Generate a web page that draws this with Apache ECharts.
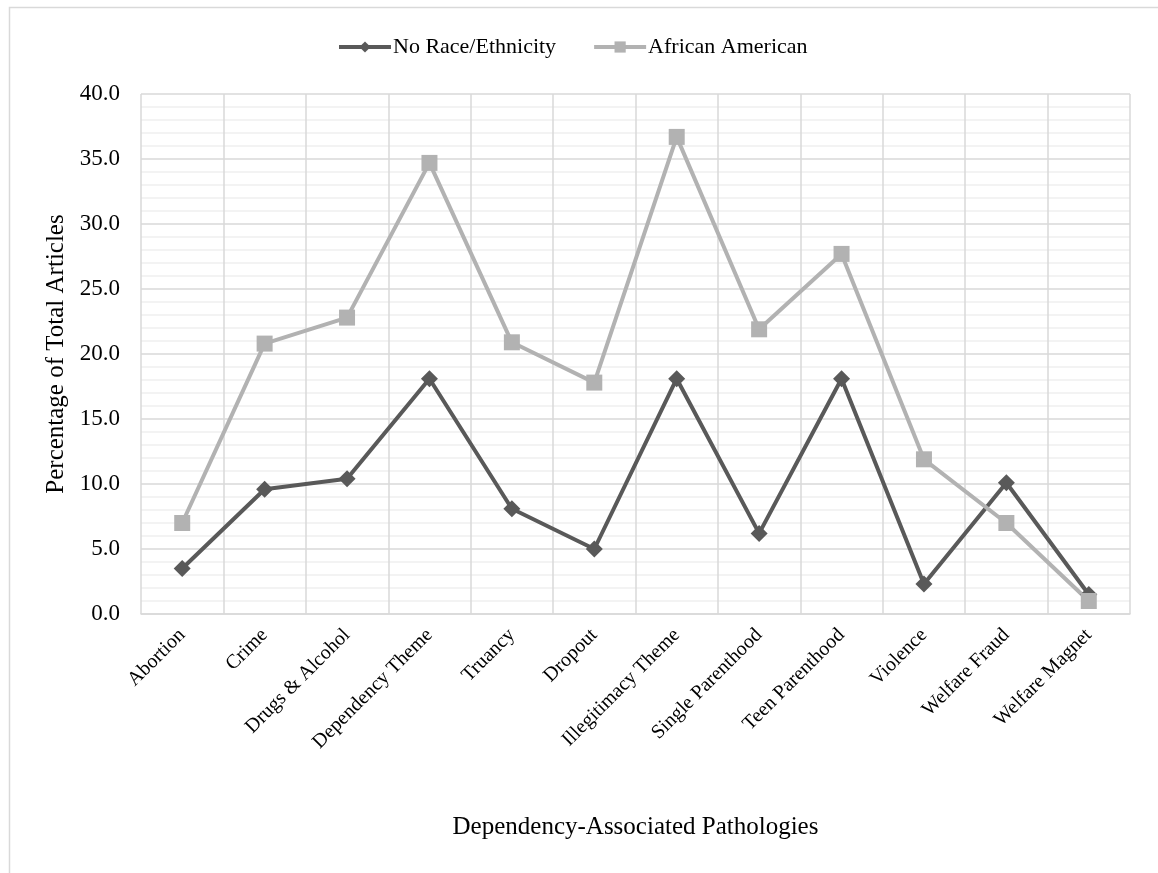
<!DOCTYPE html>
<html>
<head>
<meta charset="utf-8">
<script src="https://cdn.jsdelivr.net/npm/echarts@6/dist/echarts.min.js"></script>
<style>html,body{margin:0;padding:0;background:#fff;}#c{width:1158px;height:873px;}</style>
</head>
<body>
<div id="c"></div>
<script>
var categories = ["Abortion","Crime","Drugs & Alcohol","Dependency Theme","Truancy","Dropout","Illegitimacy Theme","Single Parenthood","Teen Parenthood","Violence","Welfare Fraud","Welfare Magnet"];
var noRace = [3.5, 9.6, 10.4, 18.1, 8.1, 5.0, 18.1, 6.2, 18.1, 2.3, 10.1, 1.5];
var africanAmerican = [7.0, 20.8, 22.8, 34.7, 20.9, 17.8, 36.7, 21.9, 27.7, 11.9, 7.0, 1.0];
var seriesNames = ["No Race/Ethnicity", "African American"];

var font = "'Liberation Serif', 'Times New Roman', serif";
var chart = echarts.init(document.getElementById('c'));
chart.setOption({
  backgroundColor: '#ffffff',
  animation: false,
  graphic: [{
    type: 'rect', left: 7, top: 5, silent: true,
    shape: {width: 1300, height: 1000},
    style: {fill: 'none', stroke: '#d9d9d9', lineWidth: 1.5}
  }],
  legend: {
    top: 31, left: 332, itemGap: 36, itemWidth: 52, itemHeight: 14,
    lineStyle: {width: 4},
    textStyle: {fontFamily: font, fontSize: 22, color: '#000', padding: [0, 0, 0, -3]},
    data: seriesNames
  },
  grid: {left: 141, right: 28, top: 94, bottom: 259},
  xAxis: {
    type: 'category', data: categories, boundaryGap: true,
    axisLine: {lineStyle: {color: '#d9d9d9', width: 1.5}},
    axisTick: {show: false},
    splitLine: {show: true, interval: 0, lineStyle: {color: '#d9d9d9', width: 1.5}},
    axisLabel: {interval: 0, rotate: 45, margin: 18, fontFamily: font, fontSize: 20, color: '#000'},
    name: 'Dependency-Associated Pathologies', nameLocation: 'middle', nameGap: 201,
    nameTextStyle: {fontFamily: font, fontSize: 25, color: '#000'}
  },
  yAxis: {
    type: 'value', min: 0, max: 40, interval: 5,
    axisLine: {show: false}, axisTick: {show: false},
    axisLabel: {fontFamily: font, fontSize: 23, color: '#000', margin: 21, formatter: function(v){return v.toFixed(1);}},
    splitLine: {show: true, lineStyle: {color: '#d9d9d9', width: 1.5}},
    minorTick: {show: false, splitNumber: 5},
    minorSplitLine: {show: true, lineStyle: {color: '#f0f0f0', width: 1.5}},
    name: 'Percentage of Total Articles', nameLocation: 'middle', nameGap: 69,
    nameTextStyle: {fontFamily: font, fontSize: 25, color: '#000'}
  },
  series: [{
    name: seriesNames[0], type: 'line', data: noRace,
    symbol: 'diamond', symbolSize: 17,
    lineStyle: {color: '#595959', width: 4},
    itemStyle: {color: '#595959'}
  }, {
    name: seriesNames[1], type: 'line', data: africanAmerican,
    symbol: 'rect', symbolSize: 16,
    lineStyle: {color: '#b2b2b2', width: 4},
    itemStyle: {color: '#b2b2b2'}
  }]
});
</script>
</body>
</html>
